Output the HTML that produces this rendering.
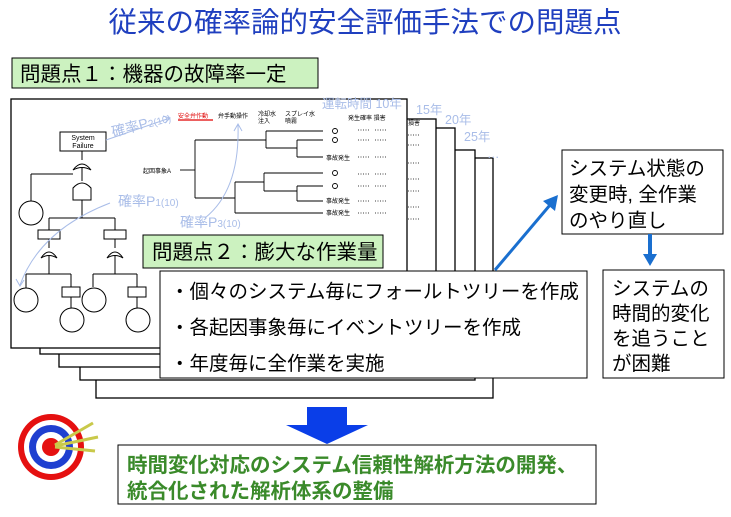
<!DOCTYPE html>
<html><head><meta charset="utf-8"><style>
body{margin:0;background:#fff;}
svg{display:block;font-family:"Liberation Sans","Noto Sans CJK JP",sans-serif;}
</style></head><body>
<svg width="731" height="517" viewBox="0 0 731 517" xmlns="http://www.w3.org/2000/svg">
<text x="365" y="32" text-anchor="middle" font-size="28.5" fill="#1f3fbf">従来の確率論的安全評価手法での問題点</text>
<rect x="12" y="58" width="306" height="30" fill="#ccf2c0" stroke="#000" stroke-width="1"/>
<text x="20" y="81" font-size="20.5">問題点１：機器の故障率一定</text>
<g fill="#fff" stroke="#000" stroke-width="1.3">
<rect x="96" y="158" width="397" height="240"/>
<rect x="80" y="150" width="395" height="230"/>
<rect x="59" y="128" width="396" height="239"/>
<rect x="40" y="119" width="396" height="235"/>
<rect x="11" y="99" width="396" height="249"/>
</g>
<g fill="#a9bde8" font-size="12.5">
<text x="322" y="108">運転時間 10年</text>
<text x="416" y="114">15年</text>
<text x="445" y="124">20年</text>
<text x="464" y="141">25年</text>
<text x="487" y="158">…</text>
</g>
<g font-size="6" fill="#000">
<text x="408" y="125">損害</text>
<text x="348" y="120">発生確率  損害</text>
</g>
<g stroke="#000" stroke-width="0.8" stroke-dasharray="1,1.5">
<line x1="408" y1="135" x2="420" y2="135"/><line x1="408" y1="145" x2="420" y2="145"/>
<line x1="408" y1="163" x2="420" y2="163"/><line x1="408" y1="179" x2="420" y2="179"/>
<line x1="408" y1="191" x2="420" y2="191"/><line x1="408" y1="207" x2="420" y2="207"/>
<line x1="408" y1="219" x2="420" y2="219"/>
<line x1="358" y1="130" x2="370" y2="130"/><line x1="375" y1="130" x2="387" y2="130"/>
<line x1="358" y1="140" x2="370" y2="140"/><line x1="375" y1="140" x2="387" y2="140"/>
<line x1="358" y1="157" x2="370" y2="157"/><line x1="375" y1="157" x2="387" y2="157"/>
<line x1="358" y1="174" x2="370" y2="174"/><line x1="375" y1="174" x2="387" y2="174"/>
<line x1="358" y1="186" x2="370" y2="186"/><line x1="375" y1="186" x2="387" y2="186"/>
<line x1="358" y1="201" x2="370" y2="201"/><line x1="375" y1="201" x2="387" y2="201"/>
<line x1="358" y1="213" x2="370" y2="213"/><line x1="375" y1="213" x2="387" y2="213"/>
</g>
<g stroke="#000" stroke-width="1" fill="none">
<rect x="60" y="132" width="46" height="19" fill="#fff"/>
<line x1="82" y1="151" x2="82" y2="160"/>
<path d="M73 170 Q82 158 91 170 Q82 165 73 170Z"/>
<line x1="82" y1="168" x2="82" y2="181"/>
<line x1="31" y1="174" x2="73" y2="174"/><line x1="31" y1="174" x2="31" y2="201"/>
<path d="M73 200 L73 188 Q82 178 91 188 L91 200Z"/>
<line x1="82" y1="200" x2="82" y2="218"/>
<circle cx="31" cy="213" r="12"/>
<line x1="49" y1="218" x2="115" y2="218"/>
<line x1="49" y1="218" x2="49" y2="230"/><line x1="115" y1="218" x2="115" y2="230"/>
<rect x="38" y="230" width="22" height="9"/><rect x="104" y="230" width="22" height="9"/>
<line x1="49" y1="239" x2="49" y2="248"/><line x1="115" y1="239" x2="115" y2="248"/>
<path d="M41 258 Q49 246 57 258 Q49 253 41 258Z"/>
<path d="M107 258 Q115 246 123 258 Q115 253 107 258Z"/>
<line x1="49" y1="256" x2="49" y2="274"/><line x1="115" y1="256" x2="115" y2="274"/>
<line x1="26" y1="274" x2="71" y2="274"/><line x1="93" y1="274" x2="137" y2="274"/>
<line x1="26" y1="274" x2="26" y2="288"/><line x1="71" y1="274" x2="71" y2="287"/>
<line x1="93" y1="274" x2="93" y2="287"/><line x1="137" y1="274" x2="137" y2="287"/>
<circle cx="26" cy="300" r="12"/><circle cx="94" cy="300" r="12"/>
<rect x="62" y="287" width="18" height="10"/><rect x="128" y="287" width="18" height="10"/>
<line x1="71" y1="297" x2="71" y2="308"/><line x1="137" y1="297" x2="137" y2="308"/>
<circle cx="72" cy="320" r="12"/><circle cx="138" cy="320" r="12"/>
</g>
<text x="83" y="140" font-size="7" text-anchor="middle">System</text>
<text x="83" y="148" font-size="7" text-anchor="middle">Failure</text>
<text x="178" y="118" font-size="6" fill="#e00000">安全弁作動</text>
<line x1="178" y1="120" x2="213" y2="120" stroke="#e00000" stroke-width="1.2"/>
<g font-size="6"><text x="218" y="118">弁手動操作</text><text x="258" y="116">冷却水</text><text x="258" y="123">注入</text><text x="285" y="116">スプレイ水</text><text x="285" y="123">噴霧</text>
<text x="143" y="173">起因事象A</text>
<text x="326" y="160">事故発生</text><text x="326" y="203">事故発生</text><text x="326" y="215">事故発生</text></g>
<g stroke="#000" stroke-width="0.9" fill="none">
<line x1="180" y1="170" x2="195" y2="170"/>
<line x1="195" y1="140" x2="195" y2="198"/>
<line x1="195" y1="140" x2="266" y2="140"/><line x1="195" y1="198" x2="235" y2="198"/>
<line x1="266" y1="131" x2="266" y2="148"/><line x1="266" y1="131" x2="323" y2="131"/><line x1="266" y1="148" x2="297" y2="148"/>
<line x1="297" y1="140" x2="297" y2="157"/><line x1="297" y1="140" x2="323" y2="140"/><line x1="297" y1="157" x2="323" y2="157"/>
<line x1="235" y1="182" x2="235" y2="213"/><line x1="235" y1="182" x2="264" y2="182"/><line x1="235" y1="213" x2="323" y2="213"/>
<line x1="264" y1="173" x2="264" y2="191"/><line x1="264" y1="173" x2="323" y2="173"/><line x1="264" y1="191" x2="297" y2="191"/>
<line x1="297" y1="186" x2="297" y2="201"/><line x1="297" y1="186" x2="323" y2="186"/><line x1="297" y1="201" x2="323" y2="201"/>
<circle cx="335" cy="131" r="2.5"/><circle cx="335" cy="140" r="2.5"/><circle cx="335" cy="173" r="2.5"/><circle cx="335" cy="186" r="2.5"/>
</g>
<g fill="#a9bde8" font-size="14">
<text x="113" y="137" transform="rotate(-15 113 137)">確率P<tspan font-size="10">2(10)</tspan></text>
<text x="118" y="206">確率P<tspan font-size="10">1(10)</tspan></text>
<text x="180" y="227">確率P<tspan font-size="10">3(10)</tspan></text>
</g>
<g stroke="#a9bde8" stroke-width="1" fill="none">
<path d="M106 140 L170 118"/><path d="M163 116 L170 118 L165 123"/>
<path d="M110 203 Q40 230 20 285"/><path d="M16 279 L20 286 L24 280"/>
<path d="M205 218 Q240 190 238 125"/><path d="M234 131 L238 124 L242 131"/>
</g>
<rect x="143" y="235" width="240" height="33" fill="#ccf2c0" stroke="#000"/>
<text x="152" y="259" font-size="20.5">問題点２：膨大な作業量</text>
<rect x="160" y="271" width="427" height="107" fill="#fff" stroke="#000"/>
<g font-size="19.5"><text x="170" y="298">・個々のシステム毎にフォールトツリーを作成</text>
<text x="170" y="334">・各起因事象毎にイベントツリーを作成</text>
<text x="170" y="370">・年度毎に全作業を実施</text></g>
<rect x="562" y="150" width="161" height="84" fill="#fff" stroke="#000"/>
<g font-size="19.5"><text x="569" y="175">システム状態の</text><text x="569" y="201">変更時, 全作業</text><text x="569" y="227">のやり直し</text></g>
<rect x="603" y="270" width="121" height="108" fill="#fff" stroke="#000"/>
<g font-size="19.5"><text x="612" y="295">システムの</text><text x="612" y="320">時間的変化</text><text x="612" y="345">を追うこと</text><text x="612" y="370">が困難</text></g>
<line x1="495" y1="270" x2="550" y2="205" stroke="#1a6fcf" stroke-width="3"/>
<polygon points="558,195 555,211 543,201" fill="#1a6fcf"/>
<line x1="650" y1="234" x2="650" y2="255" stroke="#1a6fcf" stroke-width="4"/>
<polygon points="643,254 657,254 650,266" fill="#1a6fcf"/>
<polygon points="307,407 347,407 347,425 368,425 327,444 286,425 307,425" fill="#0a3ee8"/>
<circle cx="51" cy="447" r="33" fill="#e51010"/><circle cx="51" cy="447" r="27" fill="#fff"/><circle cx="51" cy="447" r="22" fill="#1f3fd0"/><circle cx="51" cy="447" r="15" fill="#fff"/><circle cx="51" cy="447" r="9" fill="#e51010"/>
<g stroke="#c9c94a" stroke-width="3"><line x1="55" y1="445" x2="93" y2="423"/><line x1="55" y1="446" x2="98" y2="437"/><line x1="55" y1="447" x2="95" y2="451"/></g>
<rect x="118" y="445" width="478" height="59" fill="#fff" stroke="#000"/>
<g font-size="20.5" font-weight="bold" fill="#3a8a2a"><text x="127" y="472">時間変化対応のシステム信頼性解析方法の開発、</text><text x="127" y="498">統合化された解析体系の整備</text></g>
</svg>
</body></html>
